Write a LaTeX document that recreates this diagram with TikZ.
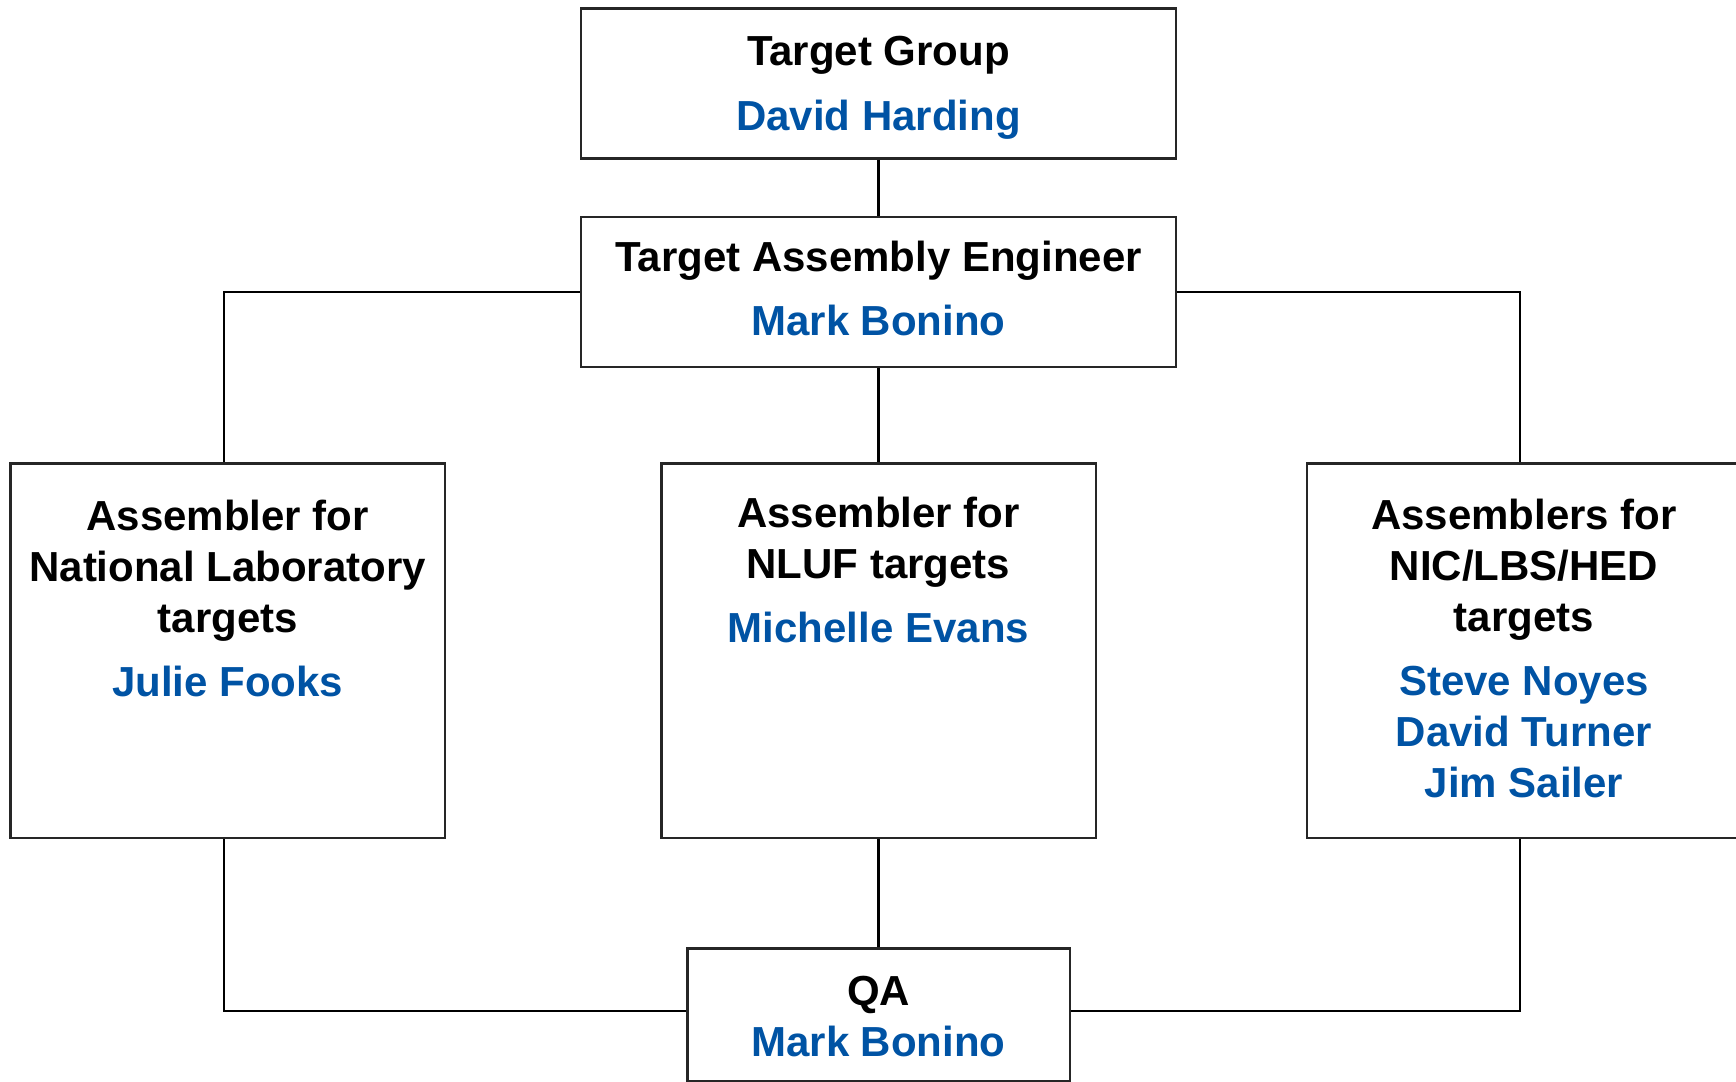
\documentclass[tikz,border=0pt]{standalone}
\usepackage{fontspec}
\setmainfont{Liberation Sans}
\usepackage{xcolor}
\definecolor{nifblue}{RGB}{0,83,164}
\newcommand{\staff}[1]{\textcolor{nifblue}{#1}}
\tikzset{%
  % Specifications for style of nodes:
            base/.style = {rectangle, draw=black!85, line width=1.2pt,
                           inner sep=0pt,
                           font=\fontsize{21}{25.5}\selectfont\bfseries},
            head/.style = {base},
            team/.style = {base},
}
\begin{document}
\begin{tikzpicture}[
    x=0.5pt, y=-0.5pt,
    node distance=104.2pt,
    line width=1.1pt]

  \useasboundingbox (0,0) rectangle (1736,1082);

  \node(group)      [head] at (878.5,83.3)                  {\parbox[c][75pt][t]{297.5pt}{\centering\vspace*{10.5pt}\strut
                                                              Target Group\\[7pt]
                                                              \staff{David Harding}}};

  \node(engineer)   [head, below of=group]                  {\parbox[c][75pt][t]{297.5pt}{\centering\vspace*{9.3pt}\strut
                                                              Target Assembly Engineer\\[6.5pt]
                                                              \staff{Mark Bonino}}};

  \node(nluf)       [team, below of=engineer, yshift=-75.3pt] {\parbox[c][187.2pt][t]{217.2pt}{\centering\vspace*{14pt}\strut
                                                              Assembler for\\
                                                              NLUF targets\\[6.5pt]
                                                              \staff{Michelle Evans}}};

  \node(natLab)     [team, left of=nluf, xshift=-221.2pt]   {\parbox[c][187.2pt][t]{217.2pt}{\centering\vspace*{15.5pt}\strut
                                                              Assembler for\\
                                                              National Laboratory\\
                                                              targets\\[6.5pt]
                                                              \staff{Julie Fooks}}};

  \node(nic)        [team, right of=nluf, xshift=218.5pt]   {\parbox[c][187.2pt][t]{217.2pt}{\centering\vspace*{15pt}\strut
                                                              Assemblers for\\
                                                              NIC/LBS/HED\\
                                                              targets\\[6.5pt]
                                                              \staff{Steve Noyes}\\
                                                              \staff{David Turner}\\
                                                              \staff{Jim Sailer}}};

  \node(qa)         [head, below of=nluf, yshift=-77.9pt]   {\parbox[c][66.5pt][t]{191.2pt}{\centering\vspace*{10.5pt}\strut
                                                              QA\\
                                                              \staff{Mark Bonino}}};

  % Specification of lines between nodes specified above
  \draw             (group) -- (engineer);
  \draw             (engineer) -- (nluf);
  \draw             (engineer.west) -| ([xshift=-1.8pt]natLab.north);
  \draw             (engineer.east) -| ([xshift=-2pt]nic.north);
  \draw             (nluf) -- (qa);
  \draw             ([xshift=-1.8pt]natLab.south) |- ([yshift=2pt]qa.west);
  \draw             ([xshift=-2pt]nic.south) |- ([yshift=2pt]qa.east);

\end{tikzpicture}
\end{document}
